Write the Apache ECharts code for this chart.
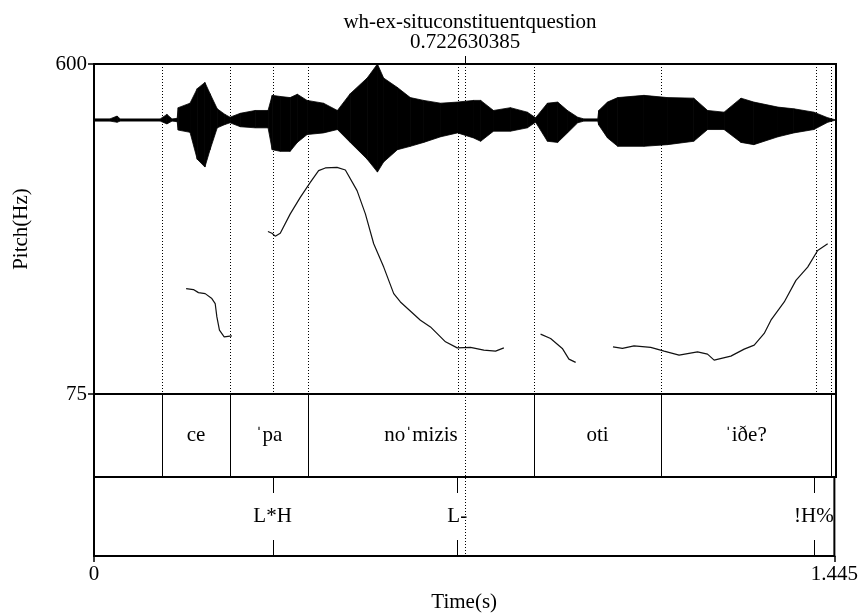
<!DOCTYPE html>
<html><head><meta charset="utf-8">
<script src="https://cdn.jsdelivr.net/npm/echarts@6/dist/echarts.min.js"></script>
<style>html,body{margin:0;padding:0;background:#fff}#c{width:861px;height:614px}</style>
</head><body><div id="c"></div>
<script>
// ---- data ----
const titleText = 'wh-ex-situconstituentquestion';
const cursorTime = 0.722630385;
const timeMin = 0, timeMax = 1.445;
const pitchMin = 75, pitchMax = 600;
const pitchTicks = [75, 600];
const timeTicks = [0, 1.445];

const pitchSeg1 = [[0.1794,242.7],[0.1936,241.1],[0.2034,236.3],[0.2165,234.7],[0.2295,226.8],[0.2360,218.9],[0.2393,197.6],[0.2443,176.5],[0.2535,165.9],[0.2685,167.5]];
const pitchSeg2 = [[0.3387,333.5],[0.3465,330.8],[0.3530,326.1],[0.3627,330.8],[0.3822,361.6],[0.4017,387.9],[0.4212,411.7],[0.4374,430.3],[0.4505,434.6],[0.4733,435.5],[0.4895,431.4],[0.5123,398.6],[0.5285,361.6],[0.5447,314.0],[0.5642,276.9],[0.5837,234.7],[0.5967,221.4],[0.6357,192.4],[0.6552,181.7],[0.6845,158.0],[0.7073,148.4],[0.7332,149.1],[0.7592,144.8],[0.7820,143.2],[0.7982,148.4]];
const pitchSeg3 = [[0.8697,170.2],[0.8892,163.3],[0.9120,147.5],[0.9249,130.5],[0.9380,125.3]];
const pitchSeg4 = [[1.0107,150.0],[1.0291,147.5],[1.0517,151.6],[1.0842,149.1],[1.1102,143.2],[1.1394,136.9],[1.1753,142.1],[1.1948,138.4],[1.2077,128.9],[1.2402,135.3],[1.2662,146.4],[1.2857,152.7],[1.3052,171.3],[1.3183,192.4],[1.3442,221.4],[1.3670,255.8],[1.3898,276.9],[1.4093,303.4],[1.4288,314.0]];

const waveTime   = [0,0.031,0.045,0.051,0.129,0.142,0.152,0.162,0.164,0.187,0.201,0.216,0.226,0.240,0.255,0.265,0.285,0.314,0.339,0.347,0.363,0.382,0.396,0.415,0.447,0.474,0.499,0.532,0.552,0.564,0.591,0.616,0.642,0.675,0.708,0.739,0.753,0.778,0.811,0.844,0.860,0.883,0.903,0.922,0.942,0.954,0.981,0.983,1.000,1.020,1.071,1.117,1.168,1.195,1.227,1.260,1.285,1.332,1.363,1.402,1.429,1.445];
const waveTop    = [0.02,0.02,0.07,0.02,0.02,0.10,0.02,0.03,0.22,0.30,0.56,0.67,0.47,0.20,0.10,0.05,0.12,0.17,0.17,0.44,0.42,0.40,0.46,0.35,0.30,0.17,0.47,0.75,1.00,0.75,0.58,0.40,0.35,0.30,0.32,0.35,0.35,0.17,0.22,0.14,0.04,0.30,0.32,0.17,0.05,0.02,0.02,0.17,0.32,0.40,0.44,0.40,0.39,0.17,0.14,0.39,0.32,0.23,0.20,0.14,0.04,0];
const waveBottom = [-0.02,-0.02,-0.04,-0.02,-0.02,-0.07,-0.02,-0.03,-0.18,-0.22,-0.70,-0.84,-0.53,-0.14,-0.08,-0.05,-0.12,-0.14,-0.14,-0.53,-0.56,-0.56,-0.40,-0.26,-0.23,-0.17,-0.40,-0.70,-0.93,-0.75,-0.53,-0.47,-0.40,-0.30,-0.23,-0.32,-0.38,-0.20,-0.20,-0.14,-0.04,-0.38,-0.40,-0.23,-0.05,-0.02,-0.02,-0.09,-0.32,-0.47,-0.47,-0.44,-0.38,-0.17,-0.17,-0.40,-0.44,-0.30,-0.23,-0.17,-0.04,0];

const tier1Bounds = [0, 0.1324, 0.2649, 0.4167, 0.8569, 1.1042, 1.4343, 1.445];
const tier1Labels = ['', 'ce', 'ˈpa', 'noˈmizis', 'oti', 'ˈiðe?', ''];
const tier2Times  = [0.3486, 0.7089, 1.4051];
const tier2Labels = ['L*H', 'L-', '!H%'];

// ---- chart ----
const FONT = "'Liberation Serif','Times New Roman',serif";
const FS = 21;
const L = 94, W = 742;
const chart = echarts.init(document.getElementById('c'), null, {renderer:'canvas'});

const xBase = (gi) => ({gridIndex:gi, type:'value', min:timeMin, max:timeMax, show:false});
const dotTimes = tier1Bounds.slice(1, -1).concat(tier2Times);

const pitchLine = (d) => ({type:'line', xAxisIndex:0, yAxisIndex:0, data:d, showSymbol:false, symbol:'none',
  lineStyle:{color:'#111', width:1.2}, silent:true, animation:false});

// waveform envelope pieces between consecutive samples
const waveData = waveTime.slice(0, -1).map((t, i) =>
  [t, waveTop[i], waveBottom[i], waveTime[i+1], waveTop[i+1], waveBottom[i+1]]);

chart.setOption({
  animation:false,
  title:{text:titleText, left:465, top:7, textAlign:'center',
    textStyle:{fontFamily:FONT, fontSize:FS, fontWeight:'normal', color:'#000'}},
  grid:[
    {left:L, top:64, width:W, height:330, show:true, borderColor:'#000', borderWidth:2},
    {left:L, top:64, width:W, height:112, show:false},
    {left:L, top:394, width:W, height:83, show:true, borderColor:'#000', borderWidth:2},
    {left:L, top:477, width:W, height:82, show:true, borderColor:'#000', borderWidth:2},
    {left:L, top:64, width:W, height:495, show:false}
  ],
  xAxis:[
    xBase(0), xBase(1), xBase(2),
    {gridIndex:3, type:'value', min:timeMin, max:timeMax,
      axisLine:{show:true, lineStyle:{color:'#000', width:2}},
      axisTick:{show:true, customValues:timeTicks, length:6, lineStyle:{color:'#000', width:1.5}},
      axisLabel:{customValues:timeTicks, formatter:(v)=>String(v), fontFamily:FONT, fontSize:FS, color:'#000', margin:8},
      splitLine:{show:false},
      name:'Time(s)', nameLocation:'middle', nameGap:36,
      nameTextStyle:{fontFamily:FONT, fontSize:FS, color:'#000'}},
    xBase(4)
  ],
  yAxis:[
    {gridIndex:0, type:'value', min:pitchMin, max:pitchMax,
      axisLine:{show:true, lineStyle:{color:'#000', width:2}},
      axisTick:{show:true, customValues:pitchTicks, length:6, lineStyle:{color:'#000', width:1.5}},
      axisLabel:{customValues:pitchTicks, fontFamily:FONT, fontSize:FS, color:'#000', margin:7},
      splitLine:{show:false},
      name:'Pitch(Hz)', nameLocation:'middle', nameRotate:90, nameGap:62,
      nameTextStyle:{fontFamily:FONT, fontSize:FS, color:'#000'}},
    {gridIndex:1, type:'value', min:-1, max:1, show:false},
    {gridIndex:2, type:'value', min:0, max:1, show:false},
    {gridIndex:3, type:'value', min:0, max:1, show:false},
    {gridIndex:4, type:'value', min:0, max:1, show:false}
  ],
  series:[
    // waveform envelope
    {type:'custom', xAxisIndex:1, yAxisIndex:1, silent:true, clip:false, data:waveData,
      renderItem:(p, api)=>{
        const a = api.coord([api.value(0), api.value(1)]);
        const b = api.coord([api.value(3), api.value(4)]);
        const c = api.coord([api.value(3), api.value(5)]);
        const d = api.coord([api.value(0), api.value(2)]);
        return {type:'polygon', shape:{points:[a, b, c, d]},
          style:{fill:'#000', stroke:'#000', lineWidth:0.8}};
      }},
    // dotted boundary lines in pitch area
    {type:'custom', xAxisIndex:0, yAxisIndex:0, data:dotTimes.map(t=>[t]), silent:true,
      renderItem:(p, api)=>{
        const t = api.value(0);
        const a = api.coord([t, pitchMax]), b = api.coord([t, pitchMin]);
        return {type:'line', shape:{x1:Math.round(a[0])+0.5, y1:a[1], x2:Math.round(b[0])+0.5, y2:b[1]},
          style:{stroke:'#000', lineWidth:1, lineDash:[1,2]}};
      }},
    pitchLine(pitchSeg1), pitchLine(pitchSeg2), pitchLine(pitchSeg3), pitchLine(pitchSeg4),
    // interval tier
    {type:'custom', xAxisIndex:2, yAxisIndex:2, silent:true,
      data:tier1Labels.map((l,i)=>[tier1Bounds[i], tier1Bounds[i+1]]),
      renderItem:(p, api)=>{
        const s = api.value(0), e = api.value(1);
        const children = [];
        if (s > timeMin) {
          const a = api.coord([s, 1]), b = api.coord([s, 0]);
          children.push({type:'line', shape:{x1:Math.round(a[0])+0.5, y1:a[1], x2:Math.round(b[0])+0.5, y2:b[1]},
            style:{stroke:'#000', lineWidth:1}});
        }
        const m = api.coord([(s+e)/2, 0.5]);
        children.push({type:'text', x:m[0], y:m[1], style:{text:tier1Labels[p.dataIndex], fill:'#000',
          font:FS+'px '+FONT, align:'center', verticalAlign:'middle'}});
        return {type:'group', children};
      }},
    // point tier
    {type:'custom', xAxisIndex:3, yAxisIndex:3, silent:true,
      data:tier2Times.map(t=>[t]),
      renderItem:(p, api)=>{
        const t = api.value(0);
        const top = api.coord([t, 1]), bot = api.coord([t, 0]);
        const x = Math.round(top[0])+0.5;
        return {type:'group', children:[
          {type:'line', shape:{x1:x, y1:top[1], x2:x, y2:top[1]+16}, style:{stroke:'#000', lineWidth:1}},
          {type:'line', shape:{x1:x, y1:bot[1]-16, x2:x, y2:bot[1]}, style:{stroke:'#000', lineWidth:1}},
          {type:'text', x:top[0], y:(top[1]+bot[1])/2, style:{text:tier2Labels[p.dataIndex], fill:'#000',
            font:FS+'px '+FONT, align:'center', verticalAlign:'middle'}}
        ]};
      }},
    // cursor
    {type:'custom', xAxisIndex:4, yAxisIndex:4, silent:true, clip:false,
      data:[[cursorTime]],
      renderItem:(p, api)=>{
        const t = api.value(0);
        const a = api.coord([t, 1]), b = api.coord([t, 0]);
        const x = Math.round(a[0])+0.5;
        return {type:'group', children:[
          {type:'line', shape:{x1:x, y1:a[1], x2:x, y2:b[1]}, style:{stroke:'#000', lineWidth:1, lineDash:[1,2]}},
          {type:'line', shape:{x1:x, y1:a[1]-8, x2:x, y2:a[1]}, style:{stroke:'#000', lineWidth:1}},
          {type:'text', x:a[0], y:a[1]-22, style:{text:String(t), fill:'#000',
            font:FS+'px '+FONT, align:'center', verticalAlign:'middle'}}
        ]};
      }}
  ]
});
</script></body></html>
